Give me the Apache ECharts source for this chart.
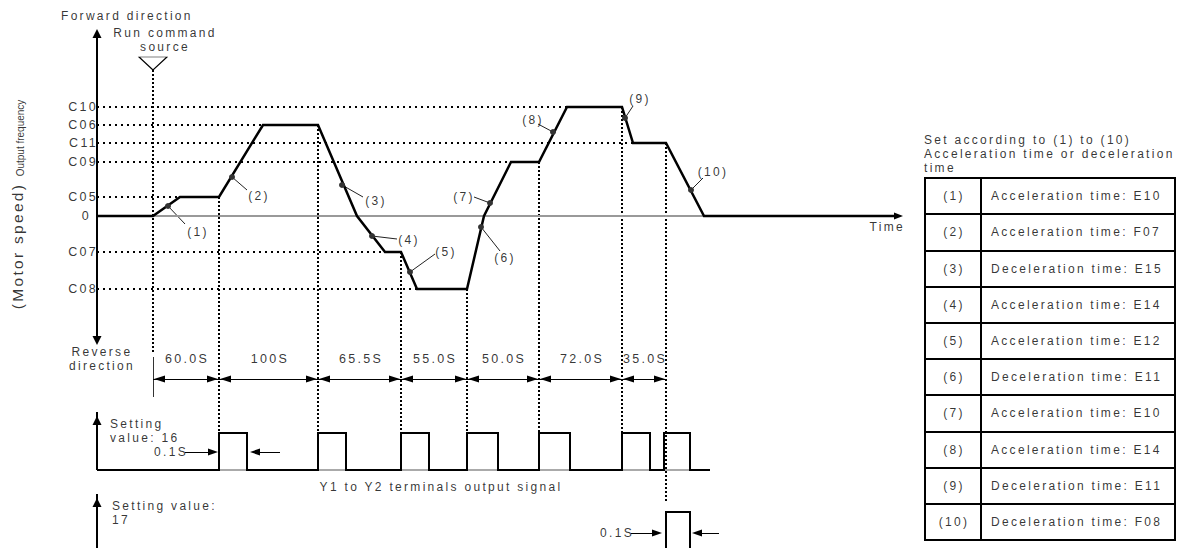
<!DOCTYPE html>
<html><head><meta charset="utf-8">
<script src="https://cdn.jsdelivr.net/npm/echarts@6/dist/echarts.min.js"></script>
<style>
html,body{margin:0;padding:0;background:#fff;}
#chart{width:1186px;height:548px;}
#chart text{letter-spacing:2.3px;}
#chart text[style*="Narrow"]{letter-spacing:0;}
</style></head><body><div id="chart"></div>
<script>
// ---------------- DATA ----------------
// Output-frequency levels (diagram units, 0 = stop)
const levelLabels = ['C10', 'C06', 'C11', 'C09', 'C05', '0', 'C07', 'C08'];
const levelValues = [109, 91, 73, 54, 19, 0, -36, -73];
const levelDottedEnd = [470, 166, 536, 414, 83, null, 288, 320];

// Speed profile (time in diagram units, level)
const profileTime  = [0, 56, 83, 122, 166, 221, 260, 288, 304, 320, 370, 387, 414, 442, 470, 525, 536, 569, 607, 800];
const profileLevel = [0, 0, 19, 19, 91, 91, 0, -36, -36, -73, -73, 0, 54, 54, 109, 109, 73, 73, 0, 0];

// Numbered points on the curve
const markerLabels = ['(1)', '(2)', '(3)', '(4)', '(5)', '(6)', '(7)', '(8)', '(9)', '(10)'];
const markerTime  = [71, 135, 245, 275, 313, 384, 393, 456, 528, 594];
const markerLevel = [10, 39, 31, -20, -56, -11, 13, 84, 98, 26];

// Segment boundaries and their durations
const boundaryTime = [56, 122, 221, 304, 370, 442, 525, 569];
const boundaryTop  = [146, 19, 91, -36, -73, 54, 109, 73];
const intervalLabels = ['60.0S', '100S', '65.5S', '55.0S', '50.0S', '72.0S', '35.0S'];

// Output pulses (Y1 to Y2)
const pulse16Start = [122, 221, 304, 370, 442, 525, 567];
const pulse16End   = [150, 249, 332, 401, 473, 553, 593];
const pulse17Start = [569];
const pulse17End   = [593];

// Table
const tableIds = ['(1)', '(2)', '(3)', '(4)', '(5)', '(6)', '(7)', '(8)', '(9)', '(10)'];
const tableSettings = [
  'Acceleration time: E10', 'Acceleration time: F07', 'Deceleration time: E15',
  'Acceleration time: E14', 'Acceleration time: E12', 'Deceleration time: E11',
  'Acceleration time: E10', 'Acceleration time: E14', 'Deceleration time: E11',
  'Deceleration time: F08'
];

// ---------------- LAYOUT ----------------
const FONT = 'Liberation Sans, Arial, sans-serif';
const FS = 12;
const LS = 1; // centering correction for letter spacing
const L = {
  axisTop: 187, axisBottom: -129, timeEnd: 806,
  grayFrom: 56, grayTo: 607,
  dimY: -163, dimLabelY: -143, tickTop: -141, tickBottom: -181, firstDottedBottom: -136,
  p16Base: -254, p16Top: -217, p16End: 613, p16Tip: -200,
  p17Base: -334, p17Top: -296, p17Tip: -282, p17DottedBottom: -287,
  tLeft: 828, tMid: 884, tRight: 1078, tTop: 38, tRow: 36.2
};
// leader end / label offsets relative to each marker (diagram units)
const leaderOff = [[17,-18],[15,-13],[21,-12],[25,-3],[25,18],[19,-24],[-16,6],[-15,8],[8,12],[12,12]];
const labelOff  = [[29,-26],[26,-19],[33,-16],[36,-4],[35,20],[23,-31],[-27,6],[-21,12],[14,19],[21,18]];

// ---------------- BUILDERS ----------------
const segDotted = [], segSolid = [], segGray = [], heads = [], texts = [];
const BLACK = '#000';
function seg(arr, a, b, style) { arr.push({ coords: [a, b], lineStyle: style }); }
function head(tip, dir, len, wid) {
  const d = { up: [0, 1], down: [0, -1], left: [-1, 0], right: [1, 0] }[dir];
  const rot = { up: 0, down: 180, left: 90, right: -90 }[dir];
  heads.push({ value: [tip[0] - d[0] * len / 2, tip[1] - d[1] * len / 2], symbolRotate: rot, symbolSize: [wid, len] });
}
function txt(x, y, text, o) {
  texts.push({ value: [x, y], label: Object.assign({ show: true, position: 'inside', formatter: text, align: 'left', verticalAlign: 'middle', fontSize: FS, lineHeight: 14, color: BLACK, fontFamily: FONT, textBorderWidth: 0 }, o || {}) });
}

// vertical main axis
seg(segSolid, [0, L.axisBottom + 4], [0, L.axisTop - 4], { color: BLACK, width: 2 });
head([0, L.axisTop], 'up', 9, 9);
head([0, L.axisBottom], 'down', 9, 9);
// time axis arrow head
head([L.timeEnd, 0], 'right', 9, 7);
// gray zero line
seg(segGray, [L.grayFrom, 0], [L.grayTo, 0], { color: '#999', width: 2 });

// horizontal dotted level lines + labels
levelValues.forEach((v, i) => {
  if (levelDottedEnd[i] != null) seg(segDotted, [0, v], [levelDottedEnd[i], v], { color: BLACK, width: 2, type: [2, 4] });
  const off = levelLabels[i] === '0' ? -7 : 0;
  txt(off + 1, v, levelLabels[i], { align: 'right', fontSize: 12.5 });
});

// vertical dotted boundary lines
boundaryTime.forEach((t, i) => {
  let bottom = L.p16Top;
  if (i === 0) bottom = L.firstDottedBottom;
  if (i === boundaryTime.length - 1) bottom = L.p17DottedBottom;
  seg(segDotted, [t, boundaryTop[i]], [t, bottom], { color: BLACK, width: 2, type: [2, 2] });
});

// dimension arrows
seg(segSolid, [boundaryTime[0], L.tickTop], [boundaryTime[0], L.tickBottom], { color: '#333', width: 1 });
seg(segSolid, [boundaryTime[0], L.dimY], [boundaryTime[boundaryTime.length - 1], L.dimY], { color: BLACK, width: 1 });
intervalLabels.forEach((lab, i) => {
  const a = boundaryTime[i], b = boundaryTime[i + 1];
  head([a + 1, L.dimY], 'left', 11, 7);
  head([b - 1, L.dimY], 'right', 11, 7);
  txt(Math.round((a + b) / 2) + LS, L.dimLabelY, lab, { align: 'center', fontSize: 12.5 });
});

// marker leaders and labels
markerTime.forEach((t, i) => {
  const v = markerLevel[i];
  seg(segSolid, [t, v], [t + leaderOff[i][0], v + leaderOff[i][1]], { color: '#222', width: 1 });
  txt(t + labelOff[i][0] + LS, v + labelOff[i][1], markerLabels[i], { align: 'center' });
});

// pulse trains
const pulse16Pts = [[0, L.p16Base]];
pulse16Start.forEach((s, i) => {
  const e = pulse16End[i];
  pulse16Pts.push([s, L.p16Base], [s, L.p16Top], [e, L.p16Top], [e, L.p16Base]);
  seg(segGray, [s, L.p16Base], [e, L.p16Base], { color: '#aaa', width: 2 });
});
pulse16Pts.push([L.p16End, L.p16Base]);
const pulse17Pts = [];
pulse17Start.forEach((s, i) => {
  pulse17Pts.push([s, L.p17Base], [s, L.p17Top], [pulse17End[i], L.p17Top], [pulse17End[i], L.p17Base]);
});
seg(segSolid, [0, L.p16Base], [0, L.p16Tip + 4], { color: BLACK, width: 2 });
head([0, L.p16Tip], 'up', 9, 9);
seg(segSolid, [0, L.p17Base], [0, L.p17Tip + 4], { color: BLACK, width: 2 });
head([0, L.p17Tip], 'up', 9, 9);

// 0.1S width arrows
seg(segSolid, [88, -236], [114, -236], { color: BLACK, width: 1 });
head([121, -236], 'right', 10, 7);
seg(segSolid, [183, -236], [160, -236], { color: BLACK, width: 1 });
head([153, -236], 'left', 10, 7);
seg(segSolid, [534, -317], [558, -317], { color: BLACK, width: 1 });
head([565, -317], 'right', 10, 7);
seg(segSolid, [622, -317], [602, -317], { color: BLACK, width: 1 });
head([595, -317], 'left', 10, 7);

// table
for (let i = 0; i <= tableIds.length; i++) {
  const y = L.tTop - L.tRow * i;
  seg(segSolid, [L.tLeft, y], [L.tRight, y], { color: BLACK, width: 2, cap: 'square' });
}
const tBottom = L.tTop - L.tRow * tableIds.length;
[L.tLeft, L.tMid, L.tRight].forEach(x => seg(segSolid, [x, L.tTop], [x, tBottom], { color: BLACK, width: 2, cap: 'square' }));
tableIds.forEach((id, i) => {
  const y = L.tTop - L.tRow * (i + 0.5);
  txt((L.tLeft + L.tMid) / 2 + LS, y, id, { align: 'center' });
  txt(L.tMid + 10, y, tableSettings[i]);
});
txt(L.tLeft - 1, 62, 'Set according to (1) to (10)\nAcceleration time or deceleration\ntime');

// other texts
txt(-36, 200, 'Forward direction');
txt(67 + LS, 176, 'Run command\nsource', { align: 'center' });
txt(5, -143, 'Reverse\ndirection', { align: 'center' });
txt(13, -215, 'Setting\nvalue: 16');
txt(91, -236, '0.1S', { align: 'right' });
txt(343 + LS, -271, 'Y1 to Y2 terminals output signal', { align: 'center' });
txt(15, -297, 'Setting value:\n17');
txt(537, -317, '0.1S', { align: 'right' });
txt(808, -11, 'Time', { align: 'right' });
txt(-80, -30, '(Motor speed)', { align: 'center', rotate: 90, fontSize: 15.5 });
txt(-77, 78, 'Output frequency', { align: 'center', rotate: 90, fontSize: 10, fontFamily: "'Liberation Sans Narrow', 'Liberation Sans', sans-serif" });

// ---------------- CHART ----------------
const chart = echarts.init(document.getElementById('chart'), null, { renderer: 'svg' });
const linesBase = { type: 'lines', coordinateSystem: 'cartesian2d', silent: true, polyline: false, lineStyle: { opacity: 1 }, symbol: ['none', 'none'] };
chart.setOption({
  animation: false,
  grid: { left: 0, right: 0, top: 0, bottom: 0 },
  xAxis: { type: 'value', min: -97, max: 1089, show: false },
  yAxis: { type: 'value', min: -332, max: 216, show: false },
  series: [
    Object.assign({}, linesBase, { z: 1, data: segDotted }),
    Object.assign({}, linesBase, { z: 2, data: segSolid }),
    Object.assign({}, linesBase, { z: 3, data: segGray }),
    { type: 'line', silent: true, z: 4, showSymbol: false, symbol: 'none',
      data: profileTime.map((t, i) => [t, profileLevel[i]]),
      lineStyle: { color: BLACK, width: 2.5, join: 'miter' } },
    { type: 'line', silent: true, z: 4, showSymbol: false, symbol: 'none', data: pulse16Pts,
      lineStyle: { color: BLACK, width: 2, join: 'miter' } },
    { type: 'line', silent: true, z: 4, showSymbol: false, symbol: 'none', data: pulse17Pts,
      lineStyle: { color: BLACK, width: 2, join: 'miter' } },
    { type: 'scatter', silent: true, z: 5, symbol: 'triangle', data: heads,
      itemStyle: { color: BLACK, opacity: 1 } },
    { type: 'scatter', silent: true, z: 5, symbol: 'triangle', symbolRotate: 180, symbolSize: [28, 13],
      data: [[boundaryTime[0], 152.5]],
      itemStyle: { color: '#fff', borderColor: BLACK, borderWidth: 1, opacity: 1 } },
    { type: 'scatter', silent: true, z: 6, symbol: 'circle', symbolSize: 6,
      data: markerTime.map((t, i) => [t, markerLevel[i]]),
      itemStyle: { color: '#333', opacity: 1 } },
    { type: 'scatter', silent: true, z: 10, symbol: 'circle', symbolSize: 1, data: texts,
      itemStyle: { color: 'rgba(0,0,0,0)' },
      labelLayout: { hideOverlap: false },
      label: { show: true, position: 'inside', color: BLACK, fontFamily: FONT } }
  ]
});
</script></body></html>
